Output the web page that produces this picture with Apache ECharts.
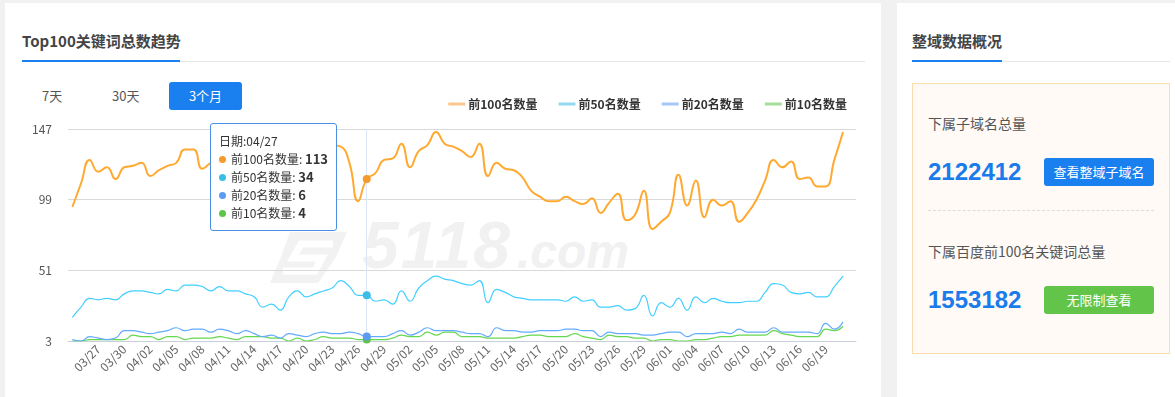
<!DOCTYPE html>
<html>
<head>
<meta charset="utf-8">
<script src="https://cdn.jsdelivr.net/npm/echarts@6/dist/echarts.min.js"></script>
<style>
html,body{margin:0;padding:0;width:1175px;height:397px;overflow:hidden;background:#f1f1f1;font-family:"Noto Sans CJK SC","Noto Sans",sans-serif;}
.abs{position:absolute;}
.card{position:absolute;background:#fff;top:3px;height:420px;}
.title{position:absolute;font-size:15px;font-weight:bold;color:#444;line-height:20px;}
.uline{position:absolute;height:2px;background:#1a7fef;}
.gline{position:absolute;height:1px;background:#e6e6e6;}
.tab{position:absolute;font-size:13px;color:#555;line-height:20px;}
.btn{position:absolute;color:#fff;font-size:13px;text-align:center;border-radius:3px;}
.lbl{position:absolute;font-size:14px;color:#555;line-height:20px;}
.num{position:absolute;font-family:"Liberation Sans",Arial,sans-serif;font-weight:bold;font-size:24px;color:#1a7bea;line-height:28px;}
#chart{position:absolute;left:0;top:0;width:1175px;height:397px;z-index:2;}
#wm{position:absolute;left:0;top:0;z-index:1;}
</style>
</head>
<body>
<div class="card" style="left:5px;width:876px;"></div>
<div class="card" style="left:897px;width:290px;"></div>

<div class="title" style="left:22px;top:31px;">Top100关键词总数趋势</div>
<div class="gline" style="left:22px;top:61px;width:843px;"></div>
<div class="uline" style="left:22px;top:60px;width:158px;"></div>
<div class="tab" style="left:42px;top:86px;">7天</div>
<div class="tab" style="left:112px;top:86px;">30天</div>
<div class="btn" style="left:169px;top:82px;width:73px;height:28px;line-height:28px;background:#1a7fef;">3个月</div>

<svg id="wm" width="1175" height="397">
  <polygon points="290,232 347,232 336,257 318,283 270,283 281,257" fill="#f2f2f2"/>
  <path d="M 333,244 L 301,244 L 293,258 L 322,258 L 315,271 L 283,271" stroke="#ffffff" stroke-width="7" fill="none"/>
  <text x="362" y="268" font-family="Liberation Sans" font-style="italic" font-weight="bold" font-size="66" fill="#f1f1f1" letter-spacing="2">5118</text>
  <text x="517" y="268" font-family="Liberation Sans" font-style="italic" font-weight="bold" font-size="48" fill="#f1f1f1">.com</text>
</svg>

<div class="title" style="left:912px;top:31px;">整域数据概况</div>
<div class="gline" style="left:912px;top:61px;width:258px;"></div>
<div class="uline" style="left:912px;top:60px;width:90px;"></div>
<div class="abs" style="left:912px;top:83px;width:256px;height:269px;background:#fffaf5;border:1px solid #fbdcae;"></div>
<div class="lbl" style="left:928px;top:113px;">下属子域名总量</div>
<div class="num" style="left:928px;top:158px;">2122412</div>
<div class="btn" style="left:1044px;top:158px;width:110px;height:28px;line-height:28px;background:#1a7fef;">查看整域子域名</div>
<div class="abs" style="left:928px;top:210px;width:226px;border-top:1px dashed #dcdcdc;"></div>
<div class="lbl" style="left:928px;top:241px;">下属百度前100名关键词总量</div>
<div class="num" style="left:928px;top:286px;">1553182</div>
<div class="btn" style="left:1044px;top:286px;width:110px;height:28px;line-height:28px;background:#62c54a;">无限制查看</div>

<div id="chart"></div>
<script>
const categories = ['03/24','03/25','03/26','03/27','03/28','03/29','03/30','03/31',
'04/01','04/02','04/03','04/04','04/05','04/06','04/07','04/08','04/09','04/10','04/11','04/12','04/13','04/14','04/15','04/16','04/17','04/18','04/19','04/20','04/21','04/22','04/23','04/24','04/25','04/26','04/27','04/28','04/29','04/30',
'05/01','05/02','05/03','05/04','05/05','05/06','05/07','05/08','05/09','05/10','05/11','05/12','05/13','05/14','05/15','05/16','05/17','05/18','05/19','05/20','05/21','05/22','05/23','05/24','05/25','05/26','05/27','05/28','05/29','05/30','05/31',
'06/01','06/02','06/03','06/04','06/05','06/06','06/07','06/08','06/09','06/10','06/11','06/12','06/13','06/14','06/15','06/16','06/17','06/18','06/19','06/20','06/21','06/22'];

const seriesNames = ['前100名数量','前50名数量','前20名数量','前10名数量'];

const top100 = [94,110,126,118,121,113,121,122,124,115,119,122,124,133,133,120,124,127,130,126,123,127,131,128,125,129,133,131,128,132,136,135,124,98,113,117,126,127,137,121,132,136,145,137,135,132,128,137,115,124,120,119,114,105,101,98,98,101,98,96,100,90,97,103,85,89,105,79,84,90,116,95,112,87,99,95,98,84,90,99,112,126,121,125,113,114,108,108,126,145];

const top50 = [19,26,32,31,32,31,35,37,37,36,35,38,37,41,41,40,37,40,37,37,35,33,26,28,24,33,37,33,35,37,39,44,40,34,34,30,31,28,37,30,39,44,47,45,44,42,41,44,29,38,36,33,32,31,31,31,31,30,33,30,31,26,26,27,24,25,34,20,29,26,32,24,33,29,32,30,29,29,30,30,36,42,41,36,35,36,33,33,40,47];

const top20 = [4,3,6,5,4,5,10,10,9,8,9,10,12,10,11,11,9,11,10,8,10,8,6,7,5,8,7,6,8,9,8,8,9,8,6,6,6,8,10,7,9,12,10,10,10,9,8,8,6,12,10,10,9,9,10,10,10,11,11,10,10,6,9,8,8,8,7,7,8,9,9,6,8,8,8,9,8,11,9,9,9,12,9,9,9,9,8,15,11,16];

const top10 = [3,3,4,4,4,4,4,7,6,6,4,6,6,4,5,5,5,6,5,4,6,6,6,5,5,3,5,3,4,6,5,5,5,4,4,4,4,5,7,6,6,9,7,9,9,6,6,6,5,5,5,5,6,7,7,6,6,6,8,6,5,4,7,6,6,5,5,3,4,4,3,3,4,4,5,6,6,7,7,7,7,10,8,7,6,6,6,11,10,13];

const yTickLabels = [3, 51, 99, 147];
const lineColors = ['#f59a2c','#3cbde8','#5b9bf3','#5cc548'];
const hoverIndex = 34;

const FONT = '"Noto Sans CJK SC","Noto Sans",sans-serif';
const chart = echarts.init(document.getElementById('chart'), null, {renderer:'canvas'});

const allData = [top100, top50, top20, top10];
const widths = [2, 1.2, 1.2, 1.2];

chart.setOption({
  animation: false,
  color: lineColors,
  textStyle: {fontFamily: FONT},
  grid: {left: 68, right: 319, top: 129, bottom: 56},
  legend: {
    data: seriesNames,
    right: 323, top: 93,
    icon: 'rect', itemWidth: 17, itemHeight: 3, itemGap: 21,
    itemStyle: {opacity: 0.55},
    textStyle: {fontSize: 12, fontWeight: 'bold', color: '#333', fontFamily: FONT, padding: [0, 0, 0, -2]}
  },
  tooltip: {
    trigger: 'axis',
    alwaysShowContent: true,
    position: [210, 123],
    backgroundColor: '#fff',
    borderColor: '#4a90e2',
    borderWidth: 1,
    padding: [8, 8],
    extraCssText: 'box-shadow:none;border-radius:3px;',
    textStyle: {fontSize: 12, color: '#333', fontFamily: FONT},
    axisPointer: {type: 'line', z: 1, lineStyle: {color: '#dce8f8', width: 1, type: 'solid'}},
    formatter: function (params) {
      let s = '<div style="line-height:18px;font-size:12px;color:#333">日期:' + params[0].axisValue;
      params.forEach(function (p) {
        s += '<br/><span style="display:inline-block;width:7px;height:7px;border-radius:50%;background:' + p.color + ';margin-right:5px;vertical-align:1px"></span>' + p.seriesName + ': <b style="font-size:13px">' + p.value + '</b>';
      });
      return s + '</div>';
    }
  },
  xAxis: {
    type: 'category',
    data: categories,
    boundaryGap: true,
    axisLine: {lineStyle: {color: '#c8cedb'}},
    axisTick: {alignWithLabel: true, length: 6, interval: function (i) { return i % 3 === 0; }, lineStyle: {color: '#c8cedb'}},
    axisLabel: {
      rotate: 45, margin: 6, fontSize: 12, color: '#666',
      interval: function (i) { return i % 3 === 0 && i > 0 && i < categories.length - 1; }
    }
  },
  yAxis: {
    type: 'value',
    min: yTickLabels[0],
    max: yTickLabels[yTickLabels.length - 1],
    interval: yTickLabels[1] - yTickLabels[0],
    axisLine: {show: false},
    axisTick: {show: false},
    axisLabel: {color: '#555', fontSize: 12, margin: 16},
    splitLine: {lineStyle: {color: '#d9d9d9'}}
  },
  series: seriesNames.map(function (name, k) {
    return {
      name: name,
      type: 'line',
      data: allData[k],
      smooth: true,
      showSymbol: false,
      symbol: 'circle',
      symbolSize: 8,
      lineStyle: {width: widths[k], color: lineColors[k]},
      itemStyle: {color: lineColors[k], borderWidth: 0},
      emphasis: {scale: false, lineStyle: {width: widths[k]}, itemStyle: {color: lineColors[k], borderWidth: 0}},
      z: 10 - k
    };
  })
});

chart.dispatchAction({type: 'showTip', seriesIndex: 0, dataIndex: hoverIndex});
</script>
</body>
</html>
